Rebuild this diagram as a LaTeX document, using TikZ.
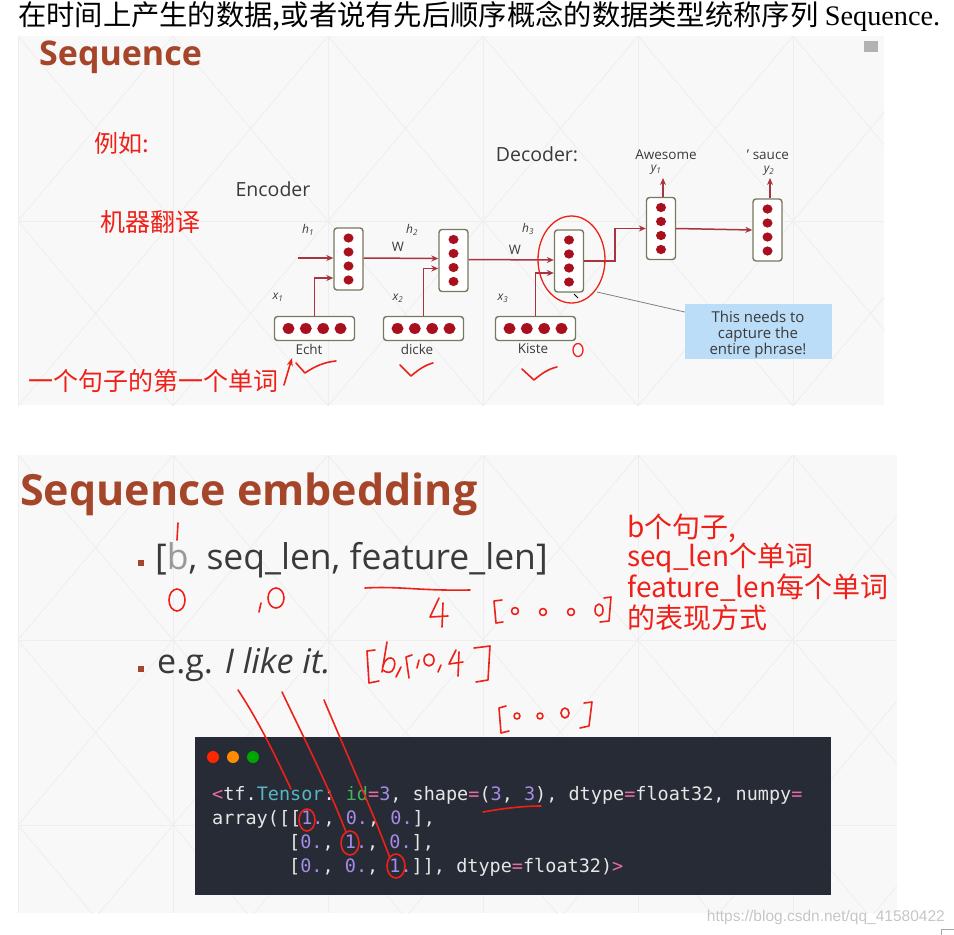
\documentclass[tikz,border=0pt]{standalone}
\usepackage{fontspec}
\setmainfont{Open Sans}
\newfontfamily\cjk{Noto Sans CJK SC}
\newfontfamily\serifl{Liberation Serif}
\newfontfamily\monof{DejaVu Sans Mono}
\newfontfamily\wmark{Liberation Sans}
\usetikzlibrary{arrows.meta,calc}
\definecolor{brownt}{HTML}{A5462A}
\definecolor{hand}{HTML}{EE2018}
\definecolor{cellred}{HTML}{A8101E}
\definecolor{arrowred}{HTML}{A8343F}
\definecolor{cellbd}{HTML}{78785F}
\definecolor{callout}{HTML}{BBDDF8}
\definecolor{codebg}{HTML}{272B35}
\definecolor{cpink}{HTML}{E96BA8}
\definecolor{ccyan}{HTML}{56B6C2}
\definecolor{cgreen}{HTML}{40B55A}
\definecolor{cpurple}{HTML}{A58BE6}
\definecolor{ctext}{HTML}{E6E6E6}
\definecolor{bodytxt}{HTML}{3A3A3A}
\definecolor{panelbg}{HTML}{F8F8F8}
\definecolor{latt}{HTML}{EEEEEE}
\tikzset{
  vcell/.style={draw=cellbd, line width=1.4pt, rounded corners=3pt, fill=white, minimum width=29pt, minimum height=62pt, inner sep=0pt},
  hcell/.style={draw=cellbd, line width=1.4pt, rounded corners=3pt, fill=white, minimum width=80pt, minimum height=24pt, inner sep=0pt},
  rnn/.style={arrowred, line width=1.5pt, -{Stealth[length=7pt,width=6pt]}},
  handw/.style={hand, line width=1.6pt, line cap=round, line join=round},
  lbl/.style={inner sep=0pt, text=bodytxt},
  redtxt/.style={inner sep=0pt, text=hand, anchor=west},
}
\newcommand{\celldotsv}[1]{\foreach \dy in {-21,-7,7,21} \fill[cellred] ($(#1)+(0,\dy)$) ellipse (5pt and 4.6pt);}
\newcommand{\celldotsh}[1]{\foreach \dx in {-26,-8.7,8.7,26} \fill[cellred] ($(#1)+(\dx,0)$) ellipse (6pt and 5.4pt);}
\begin{document}
\begin{tikzpicture}[x=1pt,y=-1pt]
\useasboundingbox (0,0) rectangle (954,935);
\fill[white] (0,0) rectangle (954,935);

% heading line
\node[anchor=base west, inner sep=0pt] (head) at (18,25) {\fontsize{28.3}{31}\selectfont\cjk 在时间上产生的数据,或者说有先后顺序概念的数据类型统称序列 {\serifl Sequence.}};

% ---------------- top panel
\fill[panelbg] (18,36) rectangle (884,405);
\begin{scope}
\clip (18,36) rectangle (884,405);
\foreach \x in {18,173,328,483,638,793} {
  \draw[latt, line width=0.8pt] (\x,36) -- (\x,405);
  \draw[latt, line width=0.8pt] (\x,36) -- ++(155,185) -- ++(-155,185);
  \draw[latt, line width=0.8pt] (\x+155,36) -- ++(-155,185) -- ++(155,185);
}
\draw[latt, line width=0.8pt] (18,221) -- (884,221);
\end{scope}

\node[anchor=west, inner sep=0pt, text=brownt, font=\fontsize{34}{37}\selectfont\bfseries] (t1) at (39,57) {Sequence};
\node[fill=gray!60, minimum width=14pt, minimum height=11pt, inner sep=0pt] (icon) at (871,46) {};

\node[redtxt, font=\fontsize{24}{26}\selectfont\cjk] (eg) at (94,143) {例如:};
\node[redtxt, font=\fontsize{25}{27}\selectfont\cjk] (mt) at (100,222) {机器翻译};
\node[redtxt, font=\fontsize{25}{27}\selectfont\cjk] (fw) at (28,381) {一个句子的第一个单词};

\node[lbl, font=\fontsize{19.5}{21}\selectfont] (enc) at (273,189) {Encoder};
\node[lbl, font=\fontsize{19.5}{21}\selectfont] (dec) at (537,154) {Decoder:};

% cells
\node[vcell] (c1) at (348.5,259) {};
\node[vcell] (c2) at (453.5,260.5) {};
\node[vcell] (c3) at (569,261) {};
\node[vcell] (c4) at (661,228.5) {};
\node[vcell] (c5) at (767.5,230) {};
\node[hcell] (w1) at (314.5,328.5) {};
\node[hcell] (w2) at (423.5,328.5) {};
\node[hcell] (w3) at (535.5,328.5) {};
\celldotsv{c1}\celldotsv{c2}\celldotsv{c3}\celldotsv{c4}\celldotsv{c5}
\celldotsh{w1}\celldotsh{w2}\celldotsh{w3}

% labels
\node[lbl, font=\fontsize{12}{13}\selectfont\itshape] (h1) at (308,230) {h\textsubscript{1}};
\node[lbl, font=\fontsize{12}{13}\selectfont\itshape] (h2) at (412,230) {h\textsubscript{2}};
\node[lbl, font=\fontsize{12}{13}\selectfont\itshape] (h3) at (528,229) {h\textsubscript{3}};
\node[lbl, font=\fontsize{12}{13}\selectfont\itshape] (x1) at (278,297) {x\textsubscript{1}};
\node[lbl, font=\fontsize{12}{13}\selectfont\itshape] (x2) at (398,298) {x\textsubscript{2}};
\node[lbl, font=\fontsize{12}{13}\selectfont\itshape] (x3) at (503,298) {x\textsubscript{3}};
\node[lbl, font=\fontsize{13}{14}\selectfont] (W1) at (398,247) {W};
\node[lbl, font=\fontsize{13}{14}\selectfont] (W2) at (515,250) {W};
\node[lbl, font=\fontsize{13.5}{15}\selectfont] (e1) at (309,349) {Echt};
\node[lbl, font=\fontsize{13.5}{15}\selectfont] (e2) at (417,349) {dicke};
\node[lbl, font=\fontsize{13.5}{15}\selectfont] (e3) at (533,349) {Kiste};
\node[lbl, font=\fontsize{13.5}{15}\selectfont] (aw) at (666,155) {Awesome};
\node[lbl, font=\fontsize{13.5}{15}\selectfont] (sc) at (768,155) {' sauce};
\node[lbl, font=\fontsize{12}{13}\selectfont\itshape] (y1) at (656,170) {y\textsubscript{1}};
\node[lbl, font=\fontsize{12}{13}\selectfont\itshape] (y2) at (769,171) {y\textsubscript{2}};

% connectors
\coordinate (h0) at (298,258);
\draw[rnn] (h0) -- (h0 -| c1.west);
\draw[rnn] (w1.north) |- ($(c1.west)+(0,19)$);
\draw[rnn] (c1.east |- h0) -- ($(c2.west)+(0,-2)$);
\draw[rnn] (w2.north) |- ($(c2.west)+(0,8)$);
\draw[rnn] ($(c2.east)+(0,-1)$) -- ($(c3.west)+(0,-1)$);
\draw[rnn] (w3.north) |- ($(c3.west)+(0,12)$);
\draw[rnn] (c3.east) -- ($(c3.east)+(31,0)$) |- (c4.west);
\draw[rnn] (c4.east) -- (c5.west);
\coordinate (o1) at (663,178);
\coordinate (o2) at (770,178);
\draw[rnn] (c4.north -| o1) -- (o1);
\draw[rnn] (c5.north -| o2) -- (o2);

% callout
\node[fill=callout, minimum width=147pt, minimum height=55pt, inner sep=0pt] (co) at (758.5,331.5) {};
\node[lbl, font=\fontsize{15}{16}\selectfont, align=center, text=bodytxt] (cot) at (758,335) {This needs to\\capture the\\entire phrase!};
\draw[hand, line width=1.3pt] (571.5,259.5) ellipse (33.5pt and 43.5pt);
\coordinate (ep) at (597,292);
\draw[gray, line width=0.8pt] (ep) -- (co.west |- 0,312);
\draw[black, line width=1pt] (574,294) -- (578,298);

% handwriting top
\draw[handw, line width=1.3pt] (578,350) ellipse (5pt and 6.5pt);
\draw[handw] (296,363) -- (305,373) .. controls (315,366) and (325,362) .. (336,361);
\draw[handw] (400,365) -- (411,376) .. controls (418,370) and (425,365) .. (433,363);
\draw[handw] (522,369) -- (534,380) .. controls (541,374) and (548,369) .. (557,367);
\coordinate (fa) at (292,358);
\draw[handw, -{Stealth[length=8pt,width=6pt]}] (284,385) -- (fa);

% ---------------- bottom panel
\fill[panelbg] (18,455) rectangle (897,913);
\begin{scope}
\clip (18,455) rectangle (897,913);
\foreach \x in {18,173,328,483,638,793} {
  \draw[latt, line width=0.8pt] (\x,455) -- (\x,913);
  \draw[latt, line width=0.8pt] (\x,455) -- ++(155,185) -- ++(-155,185) -- ++(155,185);
  \draw[latt, line width=0.8pt] (\x+155,455) -- ++(-155,185) -- ++(155,185) -- ++(-155,185);
}
\draw[latt, line width=0.8pt] (18,640) -- (897,640);
\draw[latt, line width=0.8pt] (18,825) -- (897,825);
\end{scope}

\node[anchor=west, inner sep=0pt, text=brownt, font=\fontsize{43}{46}\selectfont\bfseries] (t2) at (20,494) {Sequence embedding};

\node[fill=brownt, minimum size=6.5pt, inner sep=0pt] (b1) at (141,563) {};
\node[anchor=west, inner sep=0pt, text=bodytxt, font=\fontsize{35.5}{38}\selectfont] (shape) at (155,560) {[{\color{gray!80}b}, seq\_len, feature\_len]};
\node[fill=brownt, minimum size=6.5pt, inner sep=0pt] (b2) at (141,669) {};
\node[anchor=west, inner sep=0pt, text=bodytxt, font=\fontsize{34}{37}\selectfont] (egl) at (157,665) {e.g. \textit{I like it.}};

\node[redtxt, font=\fontsize{28}{30}\selectfont\cjk] (r1) at (627,528) {b个句子,};
\node[redtxt, font=\fontsize{28}{30}\selectfont\cjk] (r2) at (627,558) {seq\_len个单词};
\node[redtxt, font=\fontsize{28}{30}\selectfont\cjk] (r3) at (627,588) {feature\_len每个单词};
\node[redtxt, font=\fontsize{28}{30}\selectfont\cjk] (r4) at (627,618) {的表现方式};

% handwriting bottom
\draw[handw] (178,523) -- (177,540);
\draw[handw] (177,600) ellipse (8pt and 11pt);
\draw[handw] (261,603) -- (259,612);
\draw[handw] (276,598) ellipse (8pt and 10pt);
\draw[handw] (365,588) .. controls (400,586) and (420,591) .. (470,590);
\draw[handw] (439,598) -- (430,617) -- (448,616);
\draw[handw] (443,603) -- (442,627);
\draw[handw] (502,600) -- (494,601) -- (496,623) -- (503,622);
\draw[handw] (515,611) circle (3.5pt);
\draw[handw] (543,612) circle (3.5pt);
\draw[handw] (571,612) circle (3.5pt);
\draw[handw] (599,610) ellipse (4pt and 6pt);
\draw[handw] (604,598) -- (611,597) -- (609,621) -- (600,622);

\draw[handw] (375,650) -- (367,651) -- (369,683) -- (379,681);
\draw[handw] (387,642) -- (382,672);
\draw[handw] (383,666) .. controls (386,654) and (398,656) .. (394,668) .. controls (392,674) and (386,673) .. (383,670);
\draw[handw] (401,667) -- (396,677);
\draw[handw] (412,655) -- (406,657) -- (409,678);
\draw[handw] (419,660) -- (417,668);
\draw[handw] (429,660) ellipse (5pt and 6pt);
\draw[handw] (441,665) -- (438,672);
\draw[handw] (456,650) -- (449,664) -- (463,662);
\draw[handw] (459,652) -- (458,676);
\draw[handw] (474,648) -- (490,646) -- (488,680) -- (476,682);

\draw[handw] (506,706) -- (499,708) -- (501,733) -- (509,731);
\draw[handw] (517,716) circle (3pt);
\draw[handw] (540,716) circle (3pt);
\draw[handw] (565,713) ellipse (4pt and 5pt);
\draw[handw] (584,703) -- (592,702) -- (589,726) -- (580,728);

\draw[handw] (525,758) -- (517,760) -- (520,781) -- (530,779);

% code box
\node[fill=codebg, minimum width=636pt, minimum height=158pt, inner sep=0pt] (code) at (513,816) {};
\fill[red!70!orange] (213,757) circle (6pt);
\fill[orange!90!yellow] (233,757) circle (6pt);
\fill[green!65!black] (253,757) circle (6pt);
\begin{scope}[font=\fontsize{18.5}{20}\selectfont\monof]
\node[anchor=west, inner sep=0pt] (l1) at (212,795) {\textcolor{cpink}{<}\textcolor{ctext}{tf.}\textcolor{ccyan}{Tensor}\textcolor{ctext}{:\ }\textcolor{cgreen}{id}\textcolor{cpink}{=}\textcolor{cpurple}{3}\textcolor{ctext}{,\ shape}\textcolor{cpink}{=}\textcolor{ctext}{(}\textcolor{cpurple}{3}\textcolor{ctext}{,\ }\textcolor{cpurple}{3}\textcolor{ctext}{),\ dtype}\textcolor{cpink}{=}\textcolor{ctext}{float32,\ numpy}\textcolor{cpink}{=}};
\node[anchor=west, inner sep=0pt] (l2) at (212,819) {\textcolor{ctext}{array([[}\textcolor{cpurple}{1.}\textcolor{ctext}{,\ }\textcolor{cpurple}{0.}\textcolor{ctext}{,\ }\textcolor{cpurple}{0.}\textcolor{ctext}{],}};
\node[anchor=west, inner sep=0pt] (l3) at (289,843) {\textcolor{ctext}{[}\textcolor{cpurple}{0.}\textcolor{ctext}{,\ }\textcolor{cpurple}{1.}\textcolor{ctext}{,\ }\textcolor{cpurple}{0.}\textcolor{ctext}{],}};
\node[anchor=west, inner sep=0pt] (l4) at (289,867) {\textcolor{ctext}{[}\textcolor{cpurple}{0.}\textcolor{ctext}{,\ }\textcolor{cpurple}{0.}\textcolor{ctext}{,\ }\textcolor{cpurple}{1.}\textcolor{ctext}{]],\ dtype}\textcolor{cpink}{=}\textcolor{ctext}{float32)}\textcolor{cpink}{>}};
\end{scope}

% handwriting over code
\draw[handw] (307,820) ellipse (8pt and 11pt);
\draw[handw] (350,843) ellipse (9pt and 12pt);
\draw[handw] (396,866) ellipse (9pt and 12pt);
\draw[handw] (483,812) .. controls (505,808) and (525,806) .. (541,806);
\draw[handw] (238,690) .. controls (258,720) and (275,755) .. (291,789);
\draw[handw] (282,692) .. controls (305,740) and (330,790) .. (346,832);
\draw[handw] (324,700) .. controls (345,750) and (372,810) .. (390,858);

% watermark
\node[anchor=east, inner sep=0pt, text=gray!45, font=\fontsize{15.5}{16}\selectfont\wmark] (wm) at (945,917) {https://blog.csdn.net/qq\_41580422};
\draw[gray!70, line width=0.8pt] (941,935) -- (941,929) -- (954,929);
\end{tikzpicture}
\end{document}
